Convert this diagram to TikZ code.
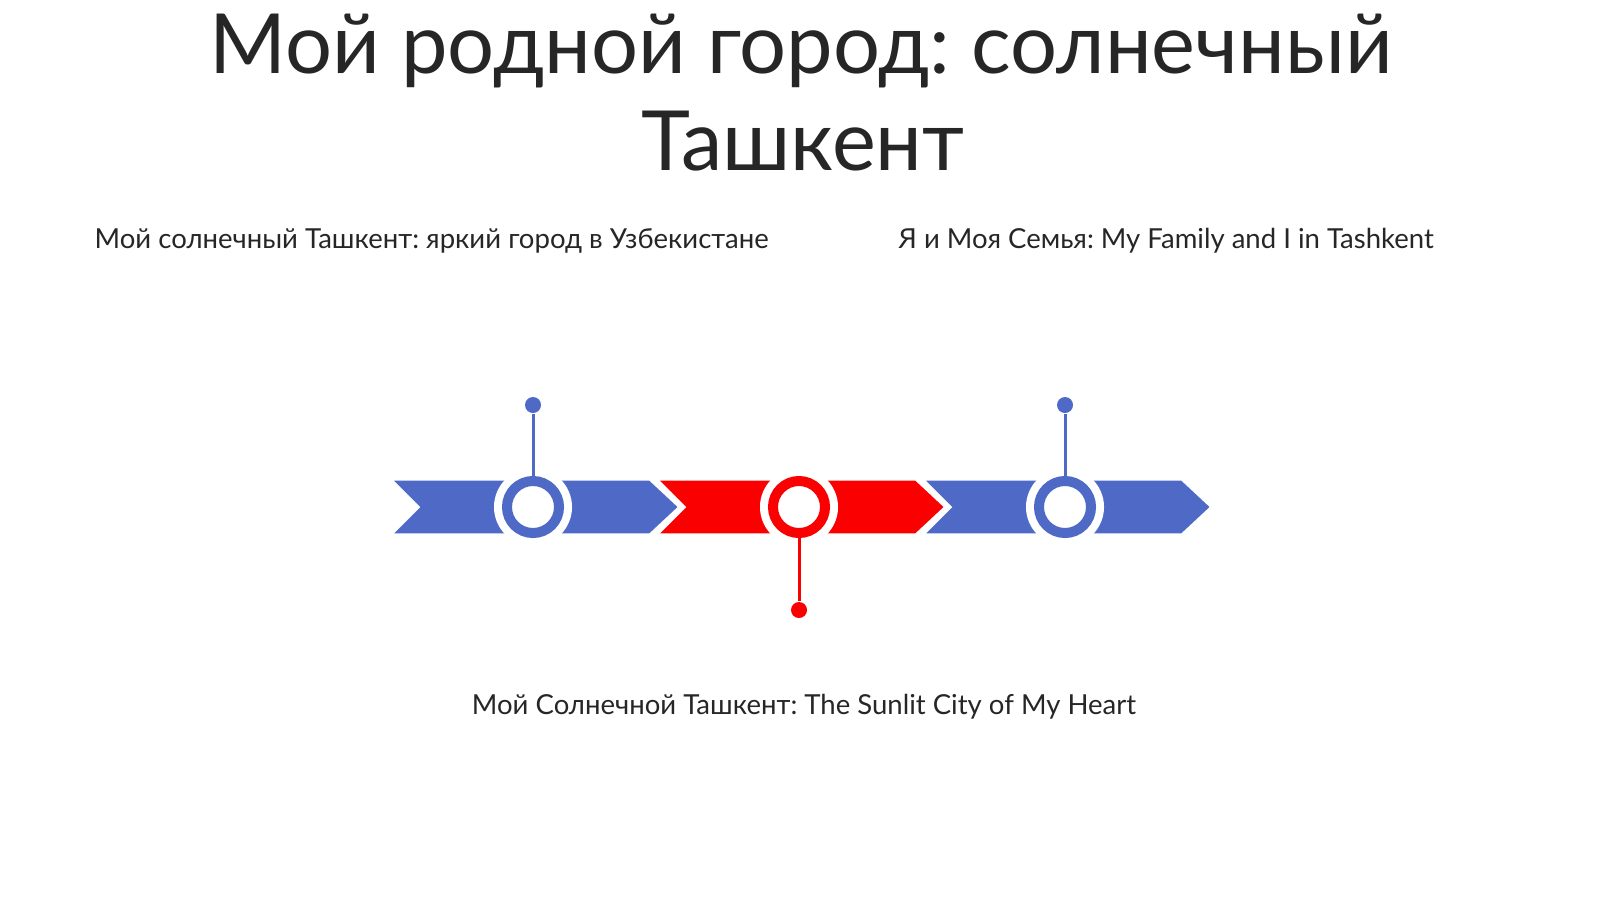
\documentclass[tikz,border=0pt]{standalone}
\usepackage{fontspec}
\setmainfont{Lato}
\usetikzlibrary{positioning}
\frenchspacing

\definecolor{tblue}{RGB}{78,106,198}
\definecolor{tred}{RGB}{250,0,0}
\definecolor{ttext}{RGB}{38,38,38}

\tikzstyle{chev} = [draw=white,line width=0.9pt]
\tikzstyle{halo} = [circle,fill=white,minimum size=0.78cm,inner sep=0pt]
\tikzstyle{ring} = [circle,fill=white,line width=2.85pt,minimum size=0.52cm,inner sep=0pt]
\tikzstyle{pin} = [circle,minimum size=0.16cm,inner sep=0pt]
\tikzstyle{stem} = [line width=0.85pt]
\tikzstyle{caption} = [text=ttext,font=\fontsize{7.83}{10}\selectfont,inner sep=0pt]

\begin{document}
\begin{tikzpicture}[x=0.01cm,y=-0.01cm]
\useasboundingbox (0,0) rectangle (1600,899);
%\draw[help lines,step=100] (0,0) grid (1600,899);

%title
\node[anchor=base,text=ttext,font=\fontsize{23.6}{27}\selectfont,inner sep=0pt] (title) at (801,73) {Мой родной город: солнечный};
\node[anchor=base,text=ttext,font=\fontsize{23.6}{27}\selectfont,inner sep=0pt] (title2) at (803,170) {Ташкент};

%captions
\node[caption,anchor=base west] (capa) at (94,248) {Мой солнечный Ташкент: яркий город в Узбекистане};
\node[caption,anchor=base west] (capb) at (898,248) {Я и Моя Семья: My Family and I in Tashkent};
\node[caption,anchor=base] (capc) at (804,714) {Мой Солнечной Ташкент: The Sunlit City of My Heart};

%chevrons
\filldraw[chev,fill=tblue] (390,479) -- (650,479) -- (680,507) -- (650,535) -- (390,535) -- (418,507) -- cycle;% a
\filldraw[chev,fill=tred] (656,479) -- (916,479) -- (946,507) -- (916,535) -- (656,535) -- (684,507) -- cycle;% b
\filldraw[chev,fill=tblue] (922,479) -- (1182,479) -- (1212,507) -- (1182,535) -- (922,535) -- (950,507) -- cycle;% c

%rings
\node[halo] (ha) at (533,507) {};
\node[halo] (hb) at (799,507) {};
\node[halo] (hc) at (1065,507) {};
\node[ring,draw=tblue] (ra) at (533,507) {};
\node[ring,draw=tred] (rb) at (799,507) {};
\node[ring,draw=tblue] (rc) at (1065,507) {};

%pins
\node[pin,fill=tblue] (pa) at (533,405) {};
\node[pin,fill=tred] (pb) at (799,610) {};
\node[pin,fill=tblue] (pc) at (1065,405) {};
\draw[stem,tblue] (ra.north) -- (pa);
\draw[stem,tred] (rb.south) -- (pb);
\draw[stem,tblue] (rc.north) -- (pc);
\end{tikzpicture}
\end{document}
